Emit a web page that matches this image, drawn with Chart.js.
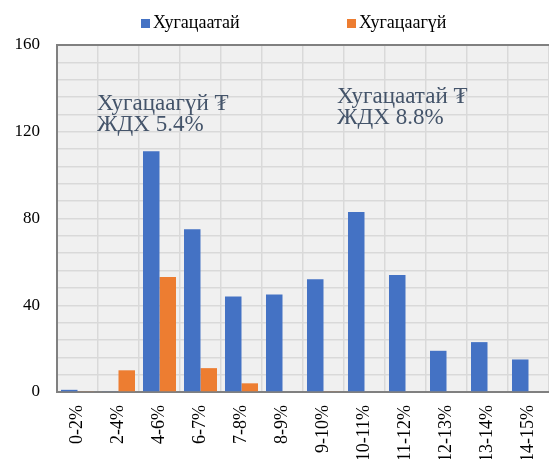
<!DOCTYPE html>
<html>
<head>
<meta charset="utf-8">
<script src="https://cdn.jsdelivr.net/npm/chart.js@4"></script>
<style>
    html, body { margin: 0; padding: 0; background: #ffffff; }
    #wrap { width: 549px; height: 459px; position: relative; }
</style>
</head>
<body>
<div id="wrap"><canvas id="chart"></canvas></div>
<script>
// Chart data
const categories = ['0-2%', '2-4%', '4-6%', '6-7%', '7-8%', '8-9%', '9-10%', '10-11%', '11-12%', '12-13%', '13-14%', '14-15%'];
const withTerm = [1, 0.4, 111, 75, 44, 45, 52, 83, 54, 19, 23, 15];
const withoutTerm = [0.4, 10, 53, 11, 4, 0, 0.4, 0, 0, 0, 0, 0];
const seriesNames = ['Хугацаатай', 'Хугацаагүй'];
const seriesColors = ['#4472C4', '#ED7D31'];
const yLabelValues = [0, 40, 80, 120, 160];
const noteLeft = ['Хугацаагүй ₮', 'ЖДХ 5.4%'];
const noteRight = ['Хугацаатай ₮', 'ЖДХ 8.8%'];

const serif = "'Liberation Serif', 'Times New Roman', serif";

// Grey plot background
const plotBackground = {
    id: 'plotBackground',
    beforeDraw(chart) {
        const { ctx, chartArea } = chart;
        ctx.save();
        ctx.fillStyle = '#f0f0f0';
        ctx.fillRect(chartArea.left, chartArea.top, chartArea.right - chartArea.left, chartArea.bottom - chartArea.top);
        ctx.restore();
    }
};

// Legend with wide spacing, like the original
const wideLegend = {
    id: 'wideLegend',
    afterDraw(chart) {
        const ctx = chart.ctx;
        const spots = [141, 347];
        ctx.save();
        ctx.font = '18px ' + serif;
        ctx.textBaseline = 'alphabetic';
        seriesNames.forEach((name, i) => {
            ctx.fillStyle = seriesColors[i];
            ctx.fillRect(spots[i], 19, 9, 9);
            ctx.fillStyle = '#000000';
            ctx.fillText(name, spots[i] + 12, 28);
        });
        ctx.restore();
    }
};

// Text notes inside the plot
const notes = {
    id: 'notes',
    afterDatasetsDraw(chart) {
        const { ctx, chartArea } = chart;
        ctx.save();
        ctx.font = '23px ' + serif;
        ctx.fillStyle = '#44546A';
        ctx.textBaseline = 'alphabetic';
        noteLeft.forEach((line, i) => {
            ctx.fillText(line, chartArea.left + 40, chartArea.top + 65 + i * 21);
        });
        noteRight.forEach((line, i) => {
            ctx.fillText(line, chartArea.left + 280, chartArea.top + 58 + i * 21);
        });
        ctx.restore();
    }
};

new Chart(document.getElementById('chart'), {
    type: 'bar',
    data: {
        labels: categories,
        datasets: [
            {
                label: seriesNames[0],
                data: withTerm,
                backgroundColor: seriesColors[0],
                categoryPercentage: 0.805,
                barPercentage: 1
            },
            {
                label: seriesNames[1],
                data: withoutTerm,
                backgroundColor: seriesColors[1],
                categoryPercentage: 0.805,
                barPercentage: 1
            }
        ]
    },
    options: {
        responsive: true,
        maintainAspectRatio: false,
        animation: false,
        layout: {
            padding: { top: 45, left: 0, right: 0, bottom: 0 }
        },
        plugins: {
            legend: { display: false },
            tooltip: { enabled: false }
        },
        scales: {
            x: {
                grid: {
                    offset: true,
                    color: '#d9d9d9',
                    lineWidth: 1.5,
                    drawTicks: false
                },
                border: { color: '#808080', width: 2 },
                ticks: {
                    color: '#000000',
                    font: { family: serif, size: 18 },
                    maxRotation: 90,
                    minRotation: 90,
                    padding: 13,
                    autoSkip: false
                },
                afterFit(scale) {
                    scale.height = 67;
                    scale.paddingLeft = 0;
                    scale.paddingRight = 0;
                }
            },
            y: {
                min: 0,
                max: 160,
                grid: {
                    color: ctx => ctx.tick && ctx.tick.value === 160 ? '#808080' : '#d9d9d9',
                    lineWidth: ctx => ctx.tick && ctx.tick.value === 160 ? 2 : 1.5,
                    drawTicks: false
                },
                border: { color: '#808080', width: 2 },
                ticks: {
                    stepSize: 8,
                    autoSkip: false,
                    color: '#000000',
                    font: { family: serif, size: 17 },
                    padding: 17,
                    callback: value => yLabelValues.includes(value) ? value : ''
                },
                afterFit(scale) {
                    scale.width = 57;
                    scale.paddingTop = 0;
                    scale.paddingBottom = 0;
                }
            }
        }
    },
    plugins: [plotBackground, wideLegend, notes]
});
</script>
</body>
</html>
